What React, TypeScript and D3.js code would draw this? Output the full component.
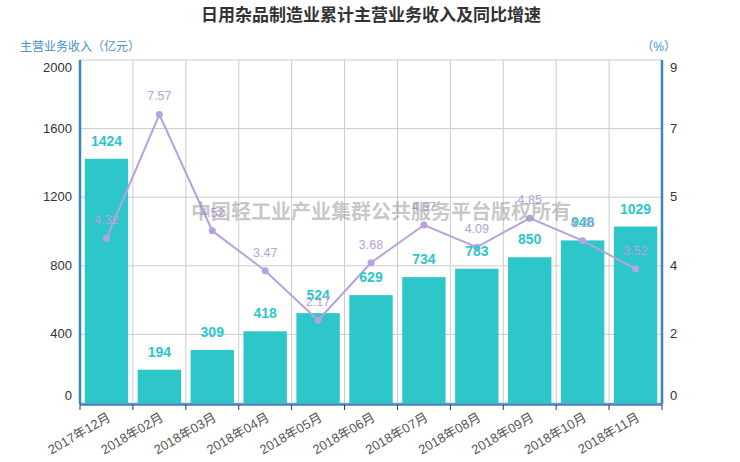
import { useRef, useEffect } from "react";
import * as d3 from "d3";

const months = [
  "2017年12月", "2018年02月", "2018年03月", "2018年04月", "2018年05月", "2018年06月",
  "2018年07月", "2018年08月", "2018年09月", "2018年10月", "2018年11月",
];
const revenue = [1424, 194, 309, 418, 524, 629, 734, 783, 850, 948, 1029];
const growth = [4.32, 7.57, 4.52, 3.47, 2.17, 3.68, 4.67, 4.09, 4.85, 4.26, 3.52];
const leftTicks = [0, 400, 800, 1200, 1600, 2000];
const rightTicks = [0, 1.8, 3.6, 5.4, 7.2, 9];

const W = 740;
const H = 462;
const FONT = "'Liberation Sans', 'Noto Sans CJK SC', sans-serif";

const App = () => {
  const svgRef = useRef<SVGSVGElement>(null);

  useEffect(() => {
    if (!svgRef.current) return;
    const svg = d3.select(svgRef.current);
    svg.selectAll("*").remove();

    const m = { left: 80, right: 78, top: 60, bottom: 59 };
    const x = d3.scaleBand().domain(months).range([m.left, W - m.right]).paddingInner(0.18).paddingOuter(0.09);
    const step = (W - m.right - m.left) / months.length;
    const yL = d3.scaleLinear().domain([0, 2000]).range([H - m.bottom, m.top]);
    const yR = d3.scaleLinear().domain([0, 9]).range([H - m.bottom, m.top]);
    const axisColor = "#3d85c0";

    // grid
    const grid = svg.append("g").attr("stroke", "#cccccc").attr("stroke-width", 1);
    grid.selectAll("line.h").data(leftTicks).join("line")
      .attr("x1", m.left).attr("x2", W - m.right)
      .attr("y1", (d) => yL(d)).attr("y2", (d) => yL(d));
    grid.selectAll("line.v").data(d3.range(months.length + 1)).join("line")
      .attr("x1", (i) => m.left + i * step).attr("x2", (i) => m.left + i * step)
      .attr("y1", m.top).attr("y2", H - m.bottom);

    // bars
    svg.append("g").attr("fill", "#2ec7c9").selectAll("rect").data(revenue).join("rect")
      .attr("x", (_, i) => x(months[i])!)
      .attr("width", x.bandwidth())
      .attr("y", (d) => yL(d))
      .attr("height", (d) => yL(0) - yL(d));

    // line
    const line = d3.line<number>().x((_, i) => x(months[i])! + x.bandwidth() / 2).y((d) => yR(d));
    svg.append("path").datum(growth).attr("d", line).attr("fill", "none")
      .attr("stroke", "#b6a2de").attr("stroke-width", 2);
    svg.append("g").attr("fill", "#b6a2de").selectAll("circle").data(growth).join("circle")
      .attr("cx", (_, i) => x(months[i])! + x.bandwidth() / 2)
      .attr("cy", (d) => yR(d)).attr("r", 3.5);

    // bar labels
    svg.append("g").attr("font-family", FONT).attr("font-weight", "bold").attr("font-size", 14)
      .attr("fill", "#2ec7c9").attr("text-anchor", "middle")
      .selectAll("text").data(revenue).join("text")
      .attr("x", (_, i) => x(months[i])! + x.bandwidth() / 2)
      .attr("y", (d) => yL(d) - 13)
      .text((d) => d);

    // line labels
    svg.append("g").attr("font-family", FONT).attr("font-size", 12.5)
      .attr("fill", "#b6a2de").attr("text-anchor", "middle")
      .selectAll("text").data(growth).join("text")
      .attr("x", (_, i) => x(months[i])! + x.bandwidth() / 2)
      .attr("y", (d) => yR(d) - 14)
      .text((d) => d.toFixed(2));

    // axes lines
    const ax = svg.append("g").attr("stroke", axisColor).attr("stroke-width", 2.5);
    ax.append("line").attr("x1", m.left).attr("x2", m.left).attr("y1", m.top).attr("y2", H - m.bottom + 1.5);
    ax.append("line").attr("x1", W - m.right).attr("x2", W - m.right).attr("y1", m.top).attr("y2", H - m.bottom + 1.5);
    ax.append("line").attr("x1", m.left).attr("x2", W - m.right).attr("y1", H - m.bottom + 1.5).attr("y2", H - m.bottom + 1.5);

    // x ticks
    svg.append("g").attr("stroke", "#333").attr("stroke-width", 1)
      .selectAll("line").data(d3.range(months.length + 1)).join("line")
      .attr("x1", (i) => m.left + i * step).attr("x2", (i) => m.left + i * step)
      .attr("y1", H - m.bottom + 2).attr("y2", H - m.bottom + 7);

    svg.append("g").attr("font-family", FONT).attr("font-size", 13).attr("fill", "#555")
      .attr("text-anchor", "end")
      .selectAll("text").data(months).join("text")
      .attr("transform", (d) => `translate(${x(d)! + x.bandwidth() / 2 + 5},${H - m.bottom + 17}) rotate(-30)`)
      .text((d) => d);

    // tick labels, first and last nudged inward
    const shiftLabel = (i: number, n: number) => (i === 0 ? -3 : i === n - 1 ? 12 : 4);
    svg.append("g").attr("font-family", FONT).attr("font-size", 13).attr("fill", "#333")
      .attr("text-anchor", "end")
      .selectAll("text").data(leftTicks).join("text")
      .attr("x", m.left - 8)
      .attr("y", (d, i) => yL(d) + shiftLabel(i, leftTicks.length))
      .text((d) => d);

    svg.append("g").attr("font-family", FONT).attr("font-size", 13).attr("fill", "#333")
      .attr("text-anchor", "start")
      .selectAll("text").data(rightTicks).join("text")
      .attr("x", W - m.right + 8)
      .attr("y", (d, i) => yR(d) + shiftLabel(i, rightTicks.length))
      .text((d) => d3.format(".0f")(d));

    // axis names
    svg.append("text").attr("x", 20).attr("y", 51).attr("font-family", FONT).attr("font-size", 12)
      .attr("fill", "#4a90c8").text("主营业务收入（亿元）");
    svg.append("text").attr("x", 676).attr("y", 51).attr("font-family", FONT).attr("font-size", 12)
      .attr("text-anchor", "end").attr("fill", "#4a90c8").text("（%）");

    // title
    svg.append("text").attr("x", 371).attr("y", 21).attr("text-anchor", "middle")
      .attr("font-family", "'Noto Sans CJK SC', sans-serif").attr("font-weight", "bold")
      .attr("font-size", 17).attr("fill", "#333").text("日用杂品制造业累计主营业务收入及同比增速");

    // watermark
    svg.append("text").attr("x", 381).attr("y", 219).attr("text-anchor", "middle")
      .attr("font-family", "'Noto Sans CJK SC', sans-serif").attr("font-weight", "bold")
      .attr("font-size", 20).attr("fill", "#999").attr("fill-opacity", 0.55)
      .text("中国轻工业产业集群公共服务平台版权所有");
  }, []);

  return (
    <svg ref={svgRef} width={W} height={H}
      style={{ position: "absolute", left: 0, top: 0, background: "#fff" }} />
  );
};

export default App;
